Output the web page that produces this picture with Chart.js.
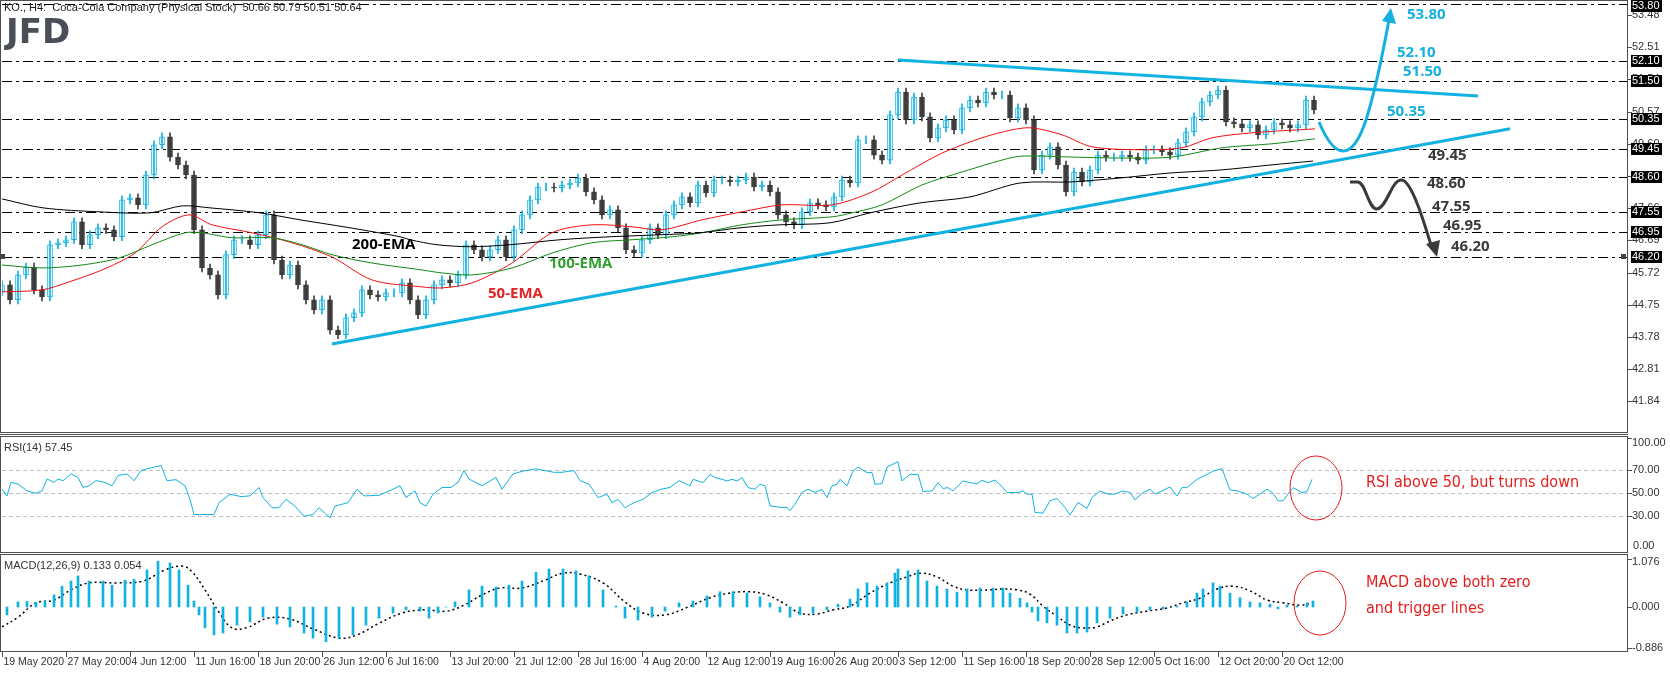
<!DOCTYPE html>
<html>
<head>
<meta charset="utf-8">
<script src="https://cdn.jsdelivr.net/npm/chart.js@4.4.1/dist/chart.umd.min.js"></script>
<style>
  body { margin: 0; background: #fff; width: 1670px; height: 673px; overflow: hidden; position: relative; }
  canvas { position: absolute; left: 0; }
</style>
</head>
<body>
<canvas id="main" width="1670" height="436" style="top:0"></canvas>
<canvas id="rsi" width="1670" height="118" style="top:436px"></canvas>
<canvas id="macd" width="1670" height="119" style="top:554px"></canvas>
<script>
// KO H4 – x positions are in H4 bars, one candle sampled every 2 bars
const closes = [
  45.35,44.90,45.65,45.89,45.20,44.99,46.56,46.62,46.71,47.25,
  46.56,46.86,47.07,47.01,46.80,47.91,47.97,47.76,48.66,49.57,
  49.81,49.20,48.96,48.66,47.01,45.86,45.65,45.05,46.26,46.71,
  46.71,46.56,46.86,47.46,46.10,45.65,45.95,45.35,44.90,44.60,
  44.90,43.99,43.85,44.36,44.51,45.20,45.05,44.99,45.11,45.11,
  45.41,44.90,44.45,44.90,45.35,45.50,45.41,45.65,46.56,46.41,
  46.19,46.41,46.71,46.19,47.01,47.46,47.91,48.30,48.30,48.27,
  48.36,48.42,48.57,48.15,47.91,47.46,47.61,47.07,46.41,46.31,
  46.71,47.07,46.86,47.46,47.76,48.00,47.82,48.36,48.12,48.51,
  48.51,48.45,48.51,48.60,48.30,48.36,48.15,47.46,47.25,47.16,
  47.55,47.82,47.76,47.70,48.00,48.51,48.42,49.72,49.72,49.26,
  49.11,50.47,51.16,50.32,51.01,50.41,49.78,50.08,50.32,50.02,
  50.68,50.92,50.83,51.16,51.07,51.07,50.38,50.68,50.32,48.81,
  49.26,49.51,48.96,48.15,48.75,48.45,48.81,49.26,49.20,49.20,
  49.26,49.20,49.11,49.42,49.42,49.36,49.26,49.63,49.96,50.41,
  50.86,51.07,51.22,50.26,50.20,50.08,50.17,49.87,50.02,50.23,
  50.17,50.08,50.17,50.92,50.62
];

const ema200Bars = [0,10.25,24.5,37,45,52,64.5,74.5,87,99.5,102,108.75,117,127,139.5,152,164.5,174.5,184.5,194.5,207,217,229.5,242,254.5,267,279.5,292,304.5,317,327.75];
const ema200 = [47.94,47.67,47.55,47.52,47.73,47.67,47.52,47.31,47.07,46.80,46.71,46.56,46.50,46.56,46.71,46.80,46.86,46.92,47.07,47.16,47.22,47.52,47.82,48.00,48.42,48.45,48.57,48.72,48.81,48.96,49.08];
const ema100Bars = [0,10,20,29.25,37.5,45.75,50,57.5,67.5,75,82.5,92.5,105,110,117.5,127.5,137.5,147.5,157.5,167.5,175,185,195,207.5,212.5,220,230,240,250,255,267.5,280,292.5,305,317.5,328.25];
const ema100 = [45.95,45.86,45.95,46.16,46.56,46.92,46.92,46.77,46.77,46.56,46.26,46.01,45.80,45.71,45.65,45.86,46.31,46.62,46.71,46.80,46.92,47.16,47.31,47.40,47.52,47.76,48.36,48.75,49.11,49.23,49.20,49.17,49.20,49.48,49.60,49.75];
const ema50Bars = [0,10,16.75,25,33.25,40,46.75,52.5,62.5,72.5,82.5,92.5,105,110,117.5,127.5,137.5,147.5,157.5,165,175,185,195,207.5,217.5,225,235,245,252.5,257.5,265,272.5,285,295,302.5,312.5,328.25];
const ema50 = [45.14,45.20,45.44,45.80,46.31,47.10,47.46,47.16,46.92,46.62,46.19,45.50,45.29,45.26,45.41,46.01,46.92,47.16,47.10,47.01,47.31,47.55,47.76,47.76,48.15,48.66,49.32,49.78,50.02,50.08,49.87,49.51,49.42,49.48,49.78,49.93,50.05];

// trend lines [bar, price]
const supportLine = [[82.5,43.57],[377,50.05]];
const resistLine = [[224,52.12],[369,51.04]];
const levels = [53.80,52.10,51.50,50.35,49.45,48.60,47.55,46.95,46.20];
const priceTicks = [53.48,52.51,51.54,50.57,49.60,48.63,47.66,46.69,45.72,44.75,43.78,42.81,41.84];

const rsiBars = [0,1.25,2.25,4,6.25,8.5,10,11.25,13,14,15.25,17.25,19,20.25,21.75,23.5,25.75,27.5,29,31.25,33,34.75,36.25,38,39.75,41.25,43.5,45.75,47,48,50.75,53,54.25,57,59.75,62,64.25,65.25,67.5,69.25,71,73.25,75.5,77.75,79.25,82,83.25,86.5,88.75,90.5,94.25,97.75,99.5,101,103.25,104.5,106,107.75,110,112.25,114,115.5,116.75,120,123.5,125,127.75,130.75,133.5,138,140,143,144.5,146.75,149,151.25,152.5,154,155.75,158,160.25,162.5,164.75,167,169.25,
  172,172.75,174,175.25,177,178.25,180,181.25,182.5,183.75,185,186.5,188.25,189.5,190.75,192,194.5,196.25,197,198.25,200,201.5,203.25,205,206.25,207.5,208.75,209.5,211.25,212.75,214,216.25,217.5,218.25,220,221.25,224,225,227,229,230.25,232.5,234,235.25,236.5,237.75,240.25,242,243.75,245,246.5,248.25,250,
  251.25,252.5,254,255.25,256.25,257.5,258.25,260.25,262,263.75,265.75,267,269,271.25,272.5,274.5,276.5,278.25,280,282,283.25,285.25,287,288.25,290,292,293.75,295,296.25,298.75,301.25,302.75,305,307,309,311.25,312.75,315,316.25,317.75,319,320.25,322.75,325,326.25,327.5];
const rsiVals = [52.9,47.1,58.8,57.4,51.5,49.4,51.5,61.8,58.8,61.8,60.3,66.2,63.2,54.4,55.9,60.3,58.8,55.9,64.7,66.2,60.3,69.1,70.6,72.1,73.5,60.3,61.2,55.9,44.1,30.9,30.9,30.9,41.2,48.5,46.5,47.1,54.4,45.6,36.8,36.8,44.1,38.2,29.4,30.9,36.8,27.9,38.2,41.2,52.9,47.1,47.6,52.9,55.9,45.6,51.5,41.2,38.2,48.5,54.4,54.4,58.8,69.1,61.8,55.9,63.2,52.9,66.2,69.1,70.6,67.6,67.6,69.1,60.3,57.4,45.6,48.5,41.2,44.1,36.8,41.2,44.1,50,52.9,54.4,60.3,
  55.8,61.5,60.1,58.6,65.8,63.0,61.5,60.1,61.5,60.1,63.0,54.3,52.9,57.2,55.8,38.5,37.1,37.1,34.2,39.9,50,52.9,50,52.9,45.7,55.8,57.2,61.5,55.8,68.7,72.2,67.3,67.3,57.2,57.8,72.2,76.8,60.1,65.8,65.8,50.9,51.4,58.6,53.5,54.3,51.4,60.1,58.6,57.8,60.6,58.6,60.9,55.2,50,
  50,50,51.4,48.6,48.6,32.7,32.1,42.8,44.8,37.0,30.4,41.4,36.2,45.7,51.4,48.6,48.6,51.4,50,43.7,50,52.9,48.6,51.4,54.9,47.1,54.3,54.3,61.5,65.8,68.7,70.7,52.3,51.4,48.6,44.8,50,52.9,49.4,42.8,42.8,54.3,50,50.9,61.5,57.8];

const histBars = [1.25,4,6.25,8.5,10.75,13,15,17.25,19,21.75,25.25,27.5,30.75,33,36.25,39,42,44.25,46.5,48,49.25,50.75,53,55.25,58.75,62,65.25,68.75,72,75.5,77.75,81,84.25,87.75,91,94.25,97.75,101,104.5,106.75,109,111,113.25,116.75,120,123.5,126.75,130,133.5,136.75,140.25,143.5,146.75,150.25,153.5,155.75,159,162.5,165.75,169.25,172.75,
  176.25,179.5,182.75,186.25,189.5,192,194.5,197,199.5,202.75,206.25,209,212,214,216.25,218.75,221.25,223.25,224,226.5,229,231.25,233.75,236.25,238.75,241.25,244.5,247.75,250.25,252,254.5,256.25,257.5,259,261.25,263.75,266.25,268.75,271.25,273.75,277,280.25,283.75,287,290.25,293.75,296.25,298.75,300.25,302.75,304.5,307,309.5,312,314.5,317,319,321.25,323.75,326.25,327.75];
const histVals = [-0.17,0.11,0.12,0.10,0.13,0.26,0.45,0.56,0.67,0.56,0.56,0.47,0.58,0.60,0.80,0.99,0.95,0.80,0.47,0.13,-0.17,-0.45,-0.60,-0.56,-0.39,-0.32,-0.22,-0.37,-0.43,-0.56,-0.67,-0.75,-0.67,-0.60,-0.39,-0.24,-0.13,-0.06,-0.09,-0.24,-0.13,0.0,0.11,0.37,0.45,0.43,0.47,0.56,0.75,0.82,0.82,0.78,0.67,0.37,0.02,-0.24,-0.28,-0.22,-0.09,0.09,0.13,
  0.24,0.33,0.33,0.30,0.22,0.09,-0.11,-0.22,-0.17,-0.13,-0.06,0.06,0.17,0.39,0.52,0.45,0.52,0.73,0.82,0.78,0.80,0.56,0.45,0.39,0.32,0.39,0.41,0.41,0.41,0.30,0.19,0.09,-0.11,-0.30,-0.34,-0.39,-0.56,-0.56,-0.54,-0.34,-0.24,-0.15,-0.11,-0.06,-0.04,0.02,0.11,0.30,0.39,0.52,0.45,0.30,0.20,0.11,0.09,0.06,-0.04,0.04,0.02,0.09,0.13];
const signalBars = [0,4,8.5,13,17.25,21.75,28.5,35.25,40.75,45.25,47.5,50.75,54.25,57.5,61,66.5,72,77.75,84.25,88.75,94.25,100,105.5,111,115.5,120,124.5,130,135.75,140.25,144.5,150.25,155.75,160.25,165.75,171.5,177,182,187,191.25,195.25,199.5,203.75,207.75,212,217,222,226.25,229.5,233.75,237.75,241.25,247,250.25,253.75,257,260.25,263.75,267,270.25,273.75,277,281.25,286.25,291.25,295.25,299.5,303.75,307.75,312,316.25,320.25,324.5,327.75];
const signalVals = [-0.43,-0.22,0.09,0.15,0.37,0.52,0.52,0.56,0.80,0.88,0.76,0.37,-0.11,-0.45,-0.45,-0.24,-0.26,-0.47,-0.67,-0.60,-0.35,-0.13,-0.06,-0.09,0.04,0.26,0.41,0.41,0.58,0.73,0.71,0.52,0.11,-0.13,-0.17,0.0,0.20,0.30,0.33,0.26,0.09,-0.13,-0.15,-0.06,0.02,0.30,0.52,0.65,0.73,0.65,0.45,0.37,0.37,0.39,0.37,0.28,0.02,-0.20,-0.39,-0.45,-0.43,-0.30,-0.17,-0.09,-0.02,0.09,0.19,0.39,0.45,0.35,0.15,0.09,0.04,0.09];

const dateLabels = ['19 May 2020','27 May 20:00','4 Jun 12:00','11 Jun 16:00','18 Jun 20:00','26 Jun 12:00','6 Jul 16:00','13 Jul 20:00','21 Jul 12:00','28 Jul 16:00','4 Aug 20:00','12 Aug 12:00','19 Aug 16:00','26 Aug 20:00','3 Sep 12:00','11 Sep 16:00','18 Sep 20:00','28 Sep 12:00','5 Oct 16:00','12 Oct 20:00','20 Oct 12:00'];
const barsPerLabel = 16;

const UP = '#10b2e2', DOWN = '#3d3d3d', AXIS = '#505050';
const FONT = '"Liberation Sans", Arial, sans-serif';
const X_MIN = 0, X_MAX = 406.25;

const opens = closes.map((c, i) => i === 0 ? closes[0] - 0.2 : closes[i - 1]);
const wickPad = 0.12;
const isUp = closes.map((c, i) => c >= opens[i]);
const pts = (xs, ys) => xs.map((x, i) => ({ x: x, y: ys[i] }));

function xScale() {
  return { type: 'linear', min: X_MIN, max: X_MAX, display: false, offset: false, grid: { offset: false } };
}
function baseOptions(yMin, yMax, padding) {
  return {
    responsive: false, devicePixelRatio: 1, animation: false,
    layout: { padding: padding },
    scales: { x: xScale(), y: { min: yMin, max: yMax, display: false } },
    plugins: { legend: { display: false }, tooltip: { enabled: false } },
    elements: { point: { radius: 0 } }
  };
}
function rightTick(ctx, txt, y, x0, ty) {
  ctx.strokeStyle = AXIS; ctx.lineWidth = 1;
  ctx.beginPath(); ctx.moveTo(x0, y + 0.5); ctx.lineTo(x0 + 4, y + 0.5); ctx.stroke();
  ctx.fillStyle = '#333'; ctx.fillText(txt, x0 + 4, ty === undefined ? y : ty);
}

// ---------- main price chart ----------
const mainDecor = {
  id: 'mainDecor',
  beforeDatasetsDraw(chart) {
    const { ctx, chartArea: a, scales: { y } } = chart;
    ctx.save();
    ctx.strokeStyle = '#000'; ctx.lineWidth = 1; ctx.setLineDash([10, 4, 3, 4]);
    levels.forEach(v => {
      const py = Math.round(y.getPixelForValue(v)) + 0.5;
      ctx.beginPath(); ctx.moveTo(a.left, py); ctx.lineTo(a.right, py); ctx.stroke();
    });
    ctx.restore();
  },
  afterDraw(chart) {
    const { ctx, chartArea: a, scales: { y } } = chart;
    ctx.save();
    ctx.strokeStyle = AXIS; ctx.lineWidth = 1;
    ctx.strokeRect(a.left - 1.5, 0.5, a.right - a.left + 2, 432);
    ctx.beginPath(); ctx.moveTo(0, 434.5); ctx.lineTo(a.right + 1, 434.5); ctx.stroke();
    ctx.font = '11px ' + FONT; ctx.textBaseline = 'middle'; ctx.textAlign = 'left';
    priceTicks.forEach(v => rightTick(ctx, v.toFixed(2), Math.round(y.getPixelForValue(v)), a.right + 1));
    levels.forEach(v => {
      const py = Math.round(y.getPixelForValue(v));
      ctx.fillStyle = '#000'; ctx.fillRect(a.right + 4, Math.max(0, py - 6), 31, 12);
      ctx.fillStyle = '#fff'; ctx.fillText(v.toFixed(2), a.right + 5, Math.max(6, py));
    });
    ctx.fillStyle = '#444'; ctx.fillRect(a.right - 6, Math.round(y.getPixelForValue(46.20)) - 3, 5, 5);
    ctx.fillRect(0, Math.round(y.getPixelForValue(46.20)) - 3, 5, 5);
    ctx.fillStyle = '#222'; ctx.font = '11px ' + FONT;
    ctx.fillText('KO., H4:  Coca-Cola Company (Physical Stock)  50.66 50.79 50.51 50.64', 4, 8);
    ctx.fillStyle = '#4a4f57'; ctx.font = 'bold 34px "DejaVu Sans", sans-serif';
    ctx.fillText('JFD', 6, 34);
    ctx.font = 'bold 15px "Open Sans", "DejaVu Sans", sans-serif';
    ctx.fillStyle = '#000'; ctx.fillText('200-EMA', 352, 245);
    ctx.fillStyle = '#2fa22f'; ctx.fillText('100-EMA', 549, 264);
    ctx.fillStyle = '#e52222'; ctx.fillText('50-EMA', 488, 294);
    ctx.fillStyle = '#13b0e0';
    [['53.80', 1407, 15], ['52.10', 1397, 53], ['51.50', 1403, 72], ['50.35', 1387, 112]].forEach(t => ctx.fillText(t[0], t[1], t[2]));
    ctx.fillStyle = '#3a3a3a';
    [['49.45', 1428, 156], ['48.60', 1427, 184], ['47.55', 1432, 207], ['46.95', 1443, 226], ['46.20', 1451, 247]].forEach(t => ctx.fillText(t[0], t[1], t[2]));
    ctx.lineWidth = 3; ctx.strokeStyle = '#13b0e0'; ctx.fillStyle = '#13b0e0';
    ctx.beginPath(); ctx.moveTo(1319, 122);
    ctx.bezierCurveTo(1335, 160, 1352, 162, 1366, 120);
    ctx.bezierCurveTo(1378, 82, 1385, 40, 1389, 20); ctx.stroke();
    ctx.beginPath(); ctx.moveTo(1391, 8); ctx.lineTo(1396, 24); ctx.lineTo(1382, 21); ctx.closePath(); ctx.fill();
    ctx.strokeStyle = '#3a3a3a'; ctx.fillStyle = '#3a3a3a';
    ctx.beginPath(); ctx.moveTo(1350, 182); ctx.lineTo(1358, 182);
    ctx.bezierCurveTo(1366, 183, 1368, 209, 1377, 209);
    ctx.bezierCurveTo(1387, 208, 1392, 178, 1402, 180);
    ctx.bezierCurveTo(1412, 182, 1424, 222, 1431, 245); ctx.stroke();
    ctx.beginPath(); ctx.moveTo(1437, 257); ctx.lineTo(1426, 244); ctx.lineTo(1440, 240); ctx.closePath(); ctx.fill();
    ctx.restore();
  }
};

new Chart(document.getElementById('main'), {
  data: {
    datasets: [
      { type: 'line', data: pts(ema200Bars, ema200), borderColor: '#000', borderWidth: 1, tension: 0.3 },
      { type: 'line', data: pts(ema100Bars, ema100), borderColor: '#138a13', borderWidth: 1, tension: 0.3 },
      { type: 'line', data: pts(ema50Bars, ema50), borderColor: '#f01010', borderWidth: 1, tension: 0.3 },
      { type: 'line', data: supportLine.map(p => ({ x: p[0], y: p[1] })), borderColor: UP, borderWidth: 3 },
      { type: 'line', data: resistLine.map(p => ({ x: p[0], y: p[1] })), borderColor: UP, borderWidth: 3 },
      { type: 'bar', grouped: false, barThickness: 1,
        data: closes.map((c, i) => ({ x: i * 2, y: [Math.min(c, opens[i]) - wickPad, Math.max(c, opens[i]) + wickPad] })),
        backgroundColor: isUp.map(u => u ? UP : DOWN) },
      { type: 'bar', grouped: false, barThickness: 5,
        data: closes.map((c, i) => ({ x: i * 2, y: [opens[i], c] })),
        backgroundColor: isUp.map(u => u ? '#fff' : DOWN),
        borderColor: isUp.map(u => u ? UP : DOWN), borderWidth: 1, borderSkipped: false }
    ]
  },
  options: baseOptions(40.89, 53.81, { left: 2, right: 43, top: 4, bottom: 3 }),
  plugins: [mainDecor]
});

// ---------- RSI ----------
const rsiDecor = {
  id: 'rsiDecor',
  beforeDatasetsDraw(chart) {
    const { ctx, chartArea: a, scales: { y } } = chart;
    ctx.save(); ctx.strokeStyle = '#c0c0c0'; ctx.setLineDash([4, 3]);
    [70, 50, 30].forEach(v => {
      const py = Math.round(y.getPixelForValue(v)) + 0.5;
      ctx.beginPath(); ctx.moveTo(a.left, py); ctx.lineTo(a.right, py); ctx.stroke();
    });
    ctx.restore();
  },
  afterDraw(chart) {
    const { ctx, chartArea: a, scales: { y } } = chart;
    ctx.save();
    ctx.strokeStyle = AXIS; ctx.lineWidth = 1;
    ctx.strokeRect(a.left - 1.5, 0.5, a.right - a.left + 2, 116);
    ctx.font = '11px ' + FONT; ctx.textBaseline = 'middle';
    rightTick(ctx, '100.00', 2, a.right + 1, 7);
    [[70, '70.00'], [50, '50.00'], [30, '30.00']].forEach(t => rightTick(ctx, t[1], Math.round(y.getPixelForValue(t[0])), a.right + 1));
    ctx.fillStyle = '#333'; ctx.fillText('0.00', a.right + 6, 110);
    ctx.fillText('RSI(14) 57.45', 4, 12);
    ctx.strokeStyle = '#e51c1c'; ctx.lineWidth = 1;
    ctx.beginPath(); ctx.ellipse(1316, 52, 26, 32, 0, 0, Math.PI * 2); ctx.stroke();
    ctx.fillStyle = '#e51c1c'; ctx.font = '16px "Liberation Sans Narrow", "DejaVu Sans Condensed", sans-serif';
    ctx.fillText('RSI above 50, but turns down', 1366, 47);
    ctx.restore();
  }
};
new Chart(document.getElementById('rsi'), {
  type: 'line',
  data: { datasets: [{ data: pts(rsiBars, rsiVals), borderColor: UP, borderWidth: 1 }] },
  options: baseOptions(-1.7, 98.3, { left: 2, right: 43, top: 1, bottom: 2 }),
  plugins: [rsiDecor]
});

// ---------- MACD ----------
const macdDecor = {
  id: 'macdDecor',
  afterDraw(chart) {
    const { ctx, chartArea: a, scales: { y, x } } = chart;
    ctx.save();
    ctx.strokeStyle = AXIS; ctx.lineWidth = 1;
    ctx.strokeRect(a.left - 1.5, 0.5, a.right - a.left + 2, 97);
    ctx.font = '11px ' + FONT; ctx.textBaseline = 'middle';
    rightTick(ctx, '1.076', 5, a.right + 1, 8);
    rightTick(ctx, '0.000', Math.round(y.getPixelForValue(0)), a.right + 1);
    rightTick(ctx, '-0.886', Math.round(y.getPixelForValue(-0.886)), a.right + 1);
    ctx.fillStyle = '#333'; ctx.fillText('MACD(12,26,9) 0.133 0.054', 4, 12);
    ctx.font = '10.5px ' + FONT;
    dateLabels.forEach((d, k) => {
      const px = Math.round(x.getPixelForValue(k * barsPerLabel)) + 0.5;
      ctx.strokeStyle = AXIS; ctx.beginPath(); ctx.moveTo(px, 98); ctx.lineTo(px, 103); ctx.stroke();
      ctx.fillStyle = '#333'; ctx.fillText(d, px + 1, 108);
    });
    ctx.strokeStyle = '#e51c1c';
    ctx.beginPath(); ctx.ellipse(1320, 49, 26, 32, 0, 0, Math.PI * 2); ctx.stroke();
    ctx.fillStyle = '#e51c1c'; ctx.font = '16px "Liberation Sans Narrow", "DejaVu Sans Condensed", sans-serif';
    ctx.fillText('MACD above both zero', 1366, 29);
    ctx.fillText('and trigger lines', 1366, 55);
    ctx.restore();
  }
};
new Chart(document.getElementById('macd'), {
  data: {
    datasets: [
      { type: 'bar', data: pts(histBars, histVals), backgroundColor: UP, barThickness: 2, grouped: false },
      { type: 'line', data: pts(signalBars, signalVals), borderColor: '#000', borderWidth: 1.5, borderDash: [2, 3], tension: 0.4 }
    ]
  },
  options: baseOptions(-0.97, 1.10, { left: 2, right: 43, top: 2, bottom: 21 }),
  plugins: [macdDecor]
});
</script>
</body>
</html>
